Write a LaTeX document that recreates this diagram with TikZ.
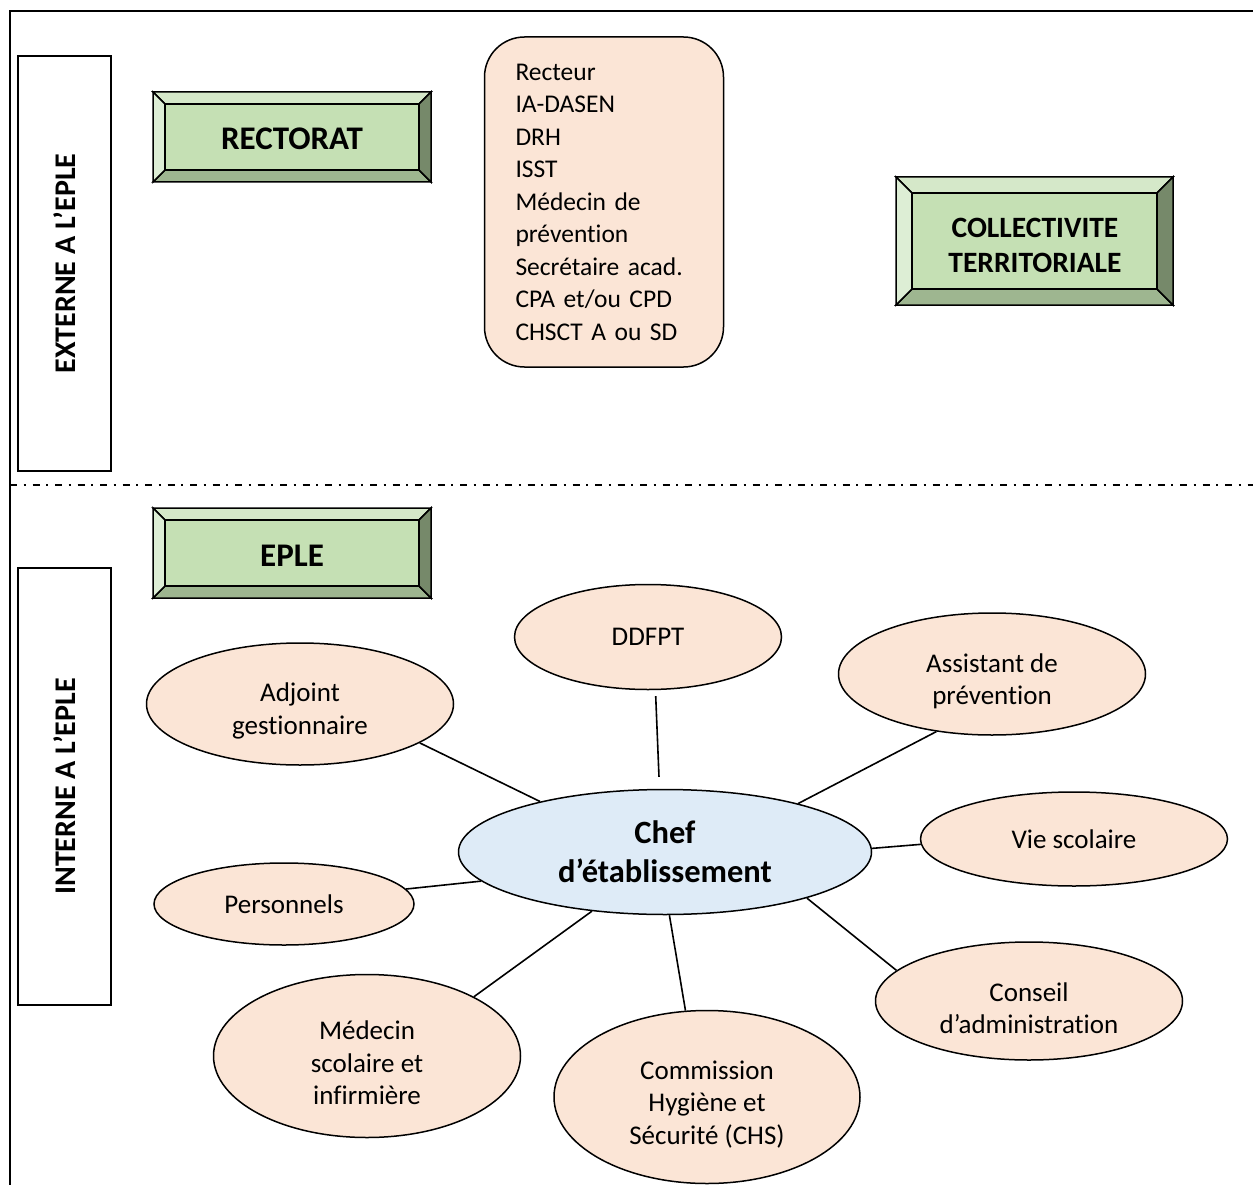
\documentclass[tikz,border=0pt]{standalone}
\usepackage{fontspec}
\setmainfont{Carlito}[Ligatures=NoCommon]
\usetikzlibrary{shapes.geometric}
\definecolor{peach}{HTML}{FBE5D6}
\definecolor{paleblue}{HTML}{DEEBF7}
\definecolor{greenface}{HTML}{C5E0B4}
\definecolor{greentop}{HTML}{D5E8C9}
\definecolor{greenleft}{HTML}{DDEED5}
\definecolor{greenbottom}{HTML}{9EB690}
\definecolor{greenright}{HTML}{76896A}
\tikzstyle{partner} = [ellipse, draw=black, line width=1.5pt, fill=peach, inner sep=0pt, align=center, font=\fontsize{27}{32.5}\selectfont]
\tikzstyle{chefbox} = [partner, fill=paleblue, font=\fontsize{32.5}{39}\selectfont\bfseries]
\tikzstyle{link} = [line width=1.6pt]
\tikzstyle{sidebox} = [rectangle, draw=black, line width=1.6pt, rotate=90, minimum height=93pt, font=\fontsize{30}{36}\selectfont\bfseries]
\tikzstyle{title} = [align=center, font=\fontsize{29.5}{35}\selectfont\bfseries]
% taller first line, pushes the text of an ellipse a little down
\newcommand{\dropline}{\rule{0pt}{33pt}}
% bevelled green box: x1, y1, x2, y2, bevel
\newcommand{\bevelbox}[5]{%
  \begin{scope}[draw=black, line width=1.5pt, line join=miter]
  \filldraw[fill=greentop] (#1,#2) -- (#3,#2) -- ({#3-#5},{#2+#5}) -- ({#1+#5},{#2+#5}) -- cycle;
  \filldraw[fill=greenbottom] (#1,#4) -- (#3,#4) -- ({#3-#5},{#4-#5}) -- ({#1+#5},{#4-#5}) -- cycle;
  \filldraw[fill=greenleft] (#1,#2) -- ({#1+#5},{#2+#5}) -- ({#1+#5},{#4-#5}) -- (#1,#4) -- cycle;
  \filldraw[fill=greenright] (#3,#2) -- ({#3-#5},{#2+#5}) -- ({#3-#5},{#4-#5}) -- (#3,#4) -- cycle;
  \filldraw[fill=greenface] ({#1+#5},{#2+#5}) rectangle ({#3-#5},{#4-#5});
  \end{scope}}

\begin{document}
\begin{tikzpicture}[x=1pt, y=-1pt]
	\useasboundingbox (0,0) rectangle (1253,1185);
	% frame and separation
	\draw[line width=2pt] (1260,11) -- (10,11) -- (10,1192);
	\draw[line width=2pt, dash pattern=on 7pt off 6.5pt on 2pt off 7pt] (10,485) -- (1253,485);
	\node(externe) [sidebox, minimum width=415pt] at (64.5,263.5) {EXTERNE A L’EPLE};
	\node(interne) [sidebox, minimum width=437pt] at (64.5,786.5) {INTERNE A L’EPLE};
	
	% external
	\bevelbox{153}{92}{431}{182}{12}
	\node(rectorat) [title, font=\fontsize{33}{36}\selectfont\bfseries] at (292,139) {RECTORAT};
	\bevelbox{896}{177}{1173}{305}{16}
	\node(collectivite) [title] at (1035,245) {COLLECTIVITE\\TERRITORIALE};
	\node(acteurs) [draw=black, line width=1.5pt, fill=peach, rounded corners=40pt, minimum width=239pt, minimum height=330pt, text width=177pt, align=left, inner sep=0pt, font=\fontsize{25.5}{32.5}\selectfont] at (604,202) {Recteur\\IA-DASEN\\DRH\\ISST\\Médecin de\\prévention\\Secrétaire acad.\\CPA et/ou CPD\\CHSCT A ou SD};
	
	% internal
	\bevelbox{153}{508}{431}{598}{12}
	\node(eple) [title, font=\fontsize{33}{36}\selectfont\bfseries] at (292,556) {EPLE};
	\node(chef) [chefbox, minimum width=413pt, minimum height=125pt] at (665,852) {Chef\\d’établissement};
	\node(ddfpt) [partner, minimum width=267pt, minimum height=105pt] at (648,637) {DDFPT};
	\node(assistant) [partner, minimum width=307pt, minimum height=122pt] at (992,674) {\dropline Assistant de\\prévention};
	\node(adjoint) [partner, minimum width=307pt, minimum height=122pt] at (300,704) {\dropline Adjoint\\gestionnaire};
	\node(vie) [partner, minimum width=307pt, minimum height=94pt] at (1074,839) {Vie scolaire};
	\node(personnels) [partner, minimum width=260pt, minimum height=82pt] at (284,904) {Personnels};
	\node(conseil) [partner, minimum width=307pt, minimum height=118pt] at (1029,1001) {\dropline Conseil\\d’administration};
	\node(medecin) [partner, minimum width=307pt, minimum height=163pt] at (367,1056) {\dropline Médecin\\scolaire et\\infirmière};
	\node(chs) [partner, minimum width=306pt, minimum height=173pt] at (707,1097) {\dropline Commission\\Hygiène et\\Sécurité (CHS)};
	
	\draw[link] (adjoint.-18) -- (chef.158);
	\draw[link, shorten <=6pt, shorten >=12pt] (ddfpt.-82) -- (chef.95);
	\draw[link] (assistant.-134) -- (chef.20);
	\draw[link] (chef.1) -- (vie.182);
	\draw[link] (personnels.7) -- (chef.189);
	\draw[link] (medecin.29) -- (chef.219);
	\draw[link] (chs.104) -- (chef.-86);
	\draw[link] (conseil.167) -- (chef.-18);
\end{tikzpicture}
\end{document}
